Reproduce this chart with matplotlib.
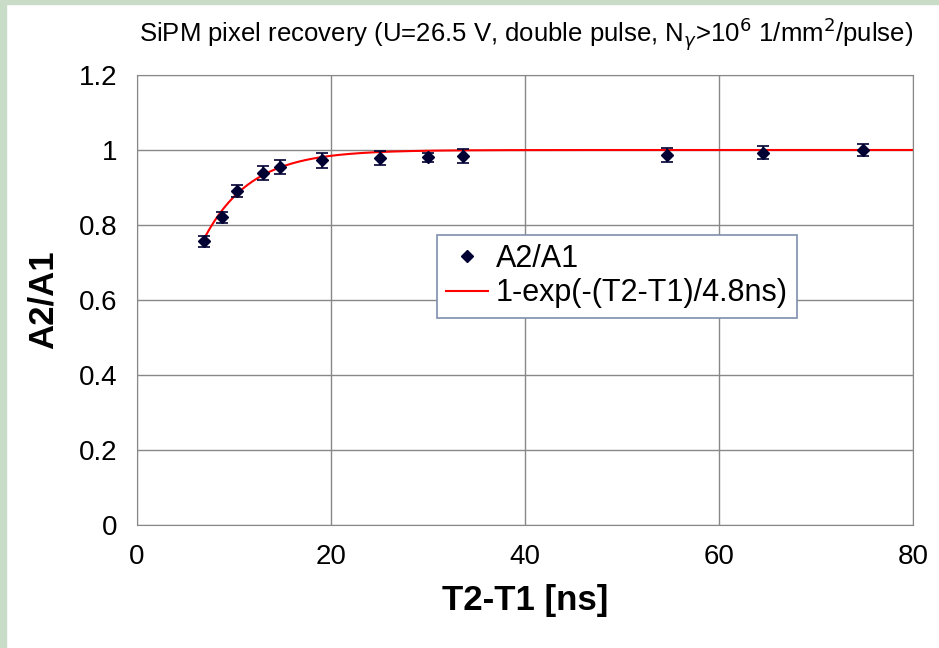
import numpy as np
import matplotlib.pyplot as plt
from matplotlib.patches import Rectangle
from matplotlib.lines import Line2D

# data
dt = [6.9, 8.8, 10.3, 13.0, 14.7, 19.1, 25.0, 30.0, 33.6, 54.6, 64.5, 74.8]
ratio = [0.757, 0.821, 0.891, 0.939, 0.955, 0.973, 0.979, 0.981, 0.984, 0.987, 0.993, 1.000]
err = [0.015, 0.015, 0.015, 0.018, 0.018, 0.02, 0.018, 0.012, 0.018, 0.018, 0.018, 0.017]

tau = 4.8
fit_x = np.linspace(7, 80, 300)
fit_y = 1 - np.exp(-fit_x / tau)

plt.rcParams['font.family'] = ['Liberation Sans', 'DejaVu Sans']

fig = plt.figure(figsize=(9.39, 6.48), dpi=100)
# green frame of the slide
fig.patches.append(Rectangle((0, 0), 6 / 939, 1, transform=fig.transFigure, color="#c8dcc8", zorder=0))
fig.patches.append(Rectangle((0, 1 - 4 / 648), 1, 4 / 648, transform=fig.transFigure, color="#c8dcc8", zorder=0))

ax = fig.add_axes([137 / 939, 1 - 525 / 648, 776 / 939, 450 / 648])

ax.plot(fit_x, fit_y, color="red", lw=1.5, zorder=2)
ax.errorbar(dt, ratio, yerr=err, fmt="D", color="#000033", ms=6, capsize=4,
            elinewidth=1.2, capthick=1.2, zorder=3)

ax.set_xlim(0, 80)
ax.set_ylim(0, 1.2)
ax.set_xticks(range(0, 81, 20))
ax.set_yticks([0, 0.2, 0.4, 0.6, 0.8, 1.0, 1.2])
ax.set_yticklabels(["0", "0.2", "0.4", "0.6", "0.8", "1", "1.2"])
ax.tick_params(labelsize=20, length=0, pad=14)
ax.grid(True, color="#888888", lw=1)
for s in ax.spines.values():
    s.set_color("#888888")

ax.set_xlabel("T2-T1 [ns]", fontsize=25, fontweight="bold", labelpad=10)
ax.set_ylabel("A2/A1", fontsize=25, fontweight="bold", labelpad=14)

fig.text(0.56, 0.948, r"SiPM pixel recovery (U=26.5 V, double pulse, N$_\gamma$>10$^6$ 1/mm$^2$/pulse)",
         ha="center", va="center", fontsize=18.5)

handles = [Line2D([], [], ls="none", marker="D", color="#000033", ms=6),
           Line2D([], [], color="red", lw=1.5)]
labels = ["A2/A1", "1-exp(-(T2-T1)/4.8ns)"]
leg = ax.legend(handles, labels, loc="upper left", bbox_to_anchor=(0.386, 0.645),
                fontsize=22, fancybox=False, framealpha=1, edgecolor="#7f8fb0",
                handlelength=1.4, handletextpad=0.25, borderpad=0.3, labelspacing=0.15,
                borderaxespad=0)
leg.get_frame().set_linewidth(1.2)

fig.savefig("out.png", dpi=100)
